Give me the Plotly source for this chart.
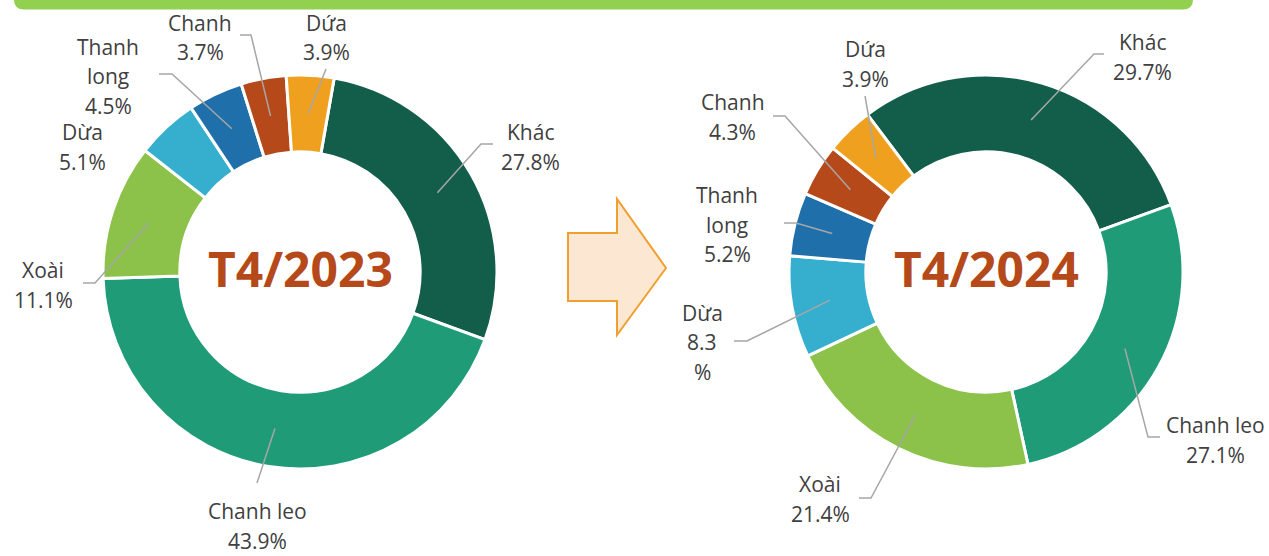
import math
import plotly.graph_objects as go

W, H = 1269, 556

# ---------------- data ----------------
categories = ["Khác", "Chanh leo", "Xoài", "Dừa", "Thanh long", "Chanh", "Dứa"]
share_2023 = [27.8, 43.9, 11.1, 5.1, 4.5, 3.7, 3.9]
share_2024 = [29.7, 27.1, 21.4, 8.3, 5.2, 4.3, 3.9]
period_titles = ["T4/2023", "T4/2024"]

# ---------------- style ----------------
slice_colors = ["#135E4B", "#1F9B78", "#8CC24A", "#36AFCF", "#1F6FAB", "#B5491A", "#F0A01F"]
TEXT_COLOR = "#404040"
LEADER_COLOR = "#A6A6A6"
TITLE_COLOR = "#B5491A"
FONT = "Open Sans"
LABEL_SIZE = 21
LINE_GAP = 29.5
R = 197
HOLE = 0.61

# layout of each donut: centre (px), start angle, label placement (px)
chart_layouts = [
    dict(cx=300, cy=272, rotation=10,
         wrap_name={"Thanh long"}, wrap_value=set(),
         labels={
             "Khác": dict(pos=(530, 147), elbow=(481, 144), end=(493, 144)),
             "Chanh leo": dict(pos=(257, 526), elbow=(257, 483), end=(257, 483)),
             "Xoài": dict(pos=(43, 285), elbow=(95, 283), end=(83, 283)),
             "Dừa": dict(pos=(82, 147), elbow=None, end=None),
             "Thanh long": dict(pos=(108, 76), elbow=(172, 74), end=(159, 74)),
             "Chanh": dict(pos=(200, 37.5), elbow=(251, 35), end=(240, 35)),
             "Dứa": dict(pos=(326, 37.5), elbow=(326, 69), end=(326, 69)),
         }),
    dict(cx=986, cy=272, rotation=-37,
         wrap_name={"Thanh long"}, wrap_value={"Dừa"},
         labels={
             "Khác": dict(pos=(1142, 57), elbow=(1094, 54), end=(1104, 54)),
             "Chanh leo": dict(pos=(1215, 440), elbow=(1148, 437), end=(1160, 437)),
             "Xoài": dict(pos=(820, 499), elbow=(871, 498), end=(859, 498)),
             "Dừa": dict(pos=(702, 342.5), elbow=(747, 341), end=(734, 341)),
             "Thanh long": dict(pos=(727, 225), elbow=(796, 223), end=(784, 223)),
             "Chanh": dict(pos=(733, 117), elbow=(785, 116), end=(773, 116)),
             "Dứa": dict(pos=(865, 64), elbow=(865, 96), end=(865, 96)),
         }),
]


def px(x):
    return x / W


def py(y):
    return 1 - y / H


fig = go.Figure()
annotations = []
shapes = []

for values, title, lay in zip([share_2023, share_2024], period_titles, chart_layouts):
    cx, cy = lay["cx"], lay["cy"]
    fig.add_trace(go.Pie(
        values=values, labels=categories, sort=False, direction="clockwise",
        rotation=lay["rotation"], hole=HOLE, textinfo="none",
        marker=dict(colors=slice_colors, line=dict(color="white", width=3)),
        domain=dict(x=[px(cx - R), px(cx + R)], y=[py(cy + R), py(cy - R)]),
        showlegend=False, hovertemplate="%{label}: %{value}%<extra></extra>",
    ))
    annotations.append(dict(
        x=px(cx), y=py(cy - 4), xref="paper", yref="paper", showarrow=False,
        text=f"<b>{title}</b>", xanchor="center", yanchor="middle",
        font=dict(family=FONT, size=48, color=TITLE_COLOR),
    ))

    total = sum(values)
    angle = lay["rotation"]
    r_mid = (R + R * HOLE) / 2
    for cat, v in zip(categories, values):
        span = 360 * v / total
        mid = math.radians(angle + span / 2)
        angle += span
        spec = lay["labels"][cat]
        # label text
        name_lines = cat.split(" ") if cat in lay["wrap_name"] else [cat]
        vtxt = f"{v:.1f}"
        val_lines = [vtxt, "%"] if cat in lay["wrap_value"] else [vtxt + "%"]
        lines = name_lines + val_lines
        lx, ly = spec["pos"]
        n = len(lines)
        for i, t in enumerate(lines):
            yy = ly + (i - (n - 1) / 2) * LINE_GAP
            annotations.append(dict(
                x=px(lx), y=py(yy), xref="paper", yref="paper", showarrow=False,
                text=t, xanchor="center", yanchor="middle",
                font=dict(family=FONT, size=LABEL_SIZE, color=TEXT_COLOR),
            ))
        # leader line from the middle of the ring at the slice's mid-angle
        if spec["elbow"] is not None:
            sx = cx + r_mid * math.sin(mid)
            sy = cy - r_mid * math.cos(mid)
            ex, ey = spec["elbow"]
            tx, ty = spec["end"]
            path = f"M {px(sx)},{py(sy)} L {px(ex)},{py(ey)} L {px(tx)},{py(ty)}"
            shapes.append(dict(type="path", xref="paper", yref="paper", path=path,
                               line=dict(color=LEADER_COLOR, width=1.5)))

# top green banner (rounded bottom corners)
bx0, bx1, by0, by1, rc = 14, 1193, -12, 9.5, 10
banner = (f"M {px(bx0)},{py(by0)} L {px(bx0)},{py(by1 - rc)} "
          f"Q {px(bx0)},{py(by1)} {px(bx0 + rc)},{py(by1)} "
          f"L {px(bx1 - rc)},{py(by1)} Q {px(bx1)},{py(by1)} {px(bx1)},{py(by1 - rc)} "
          f"L {px(bx1)},{py(by0)} Z")
shapes.append(dict(type="path", xref="paper", yref="paper", path=banner,
                   fillcolor="#92D050", line=dict(width=0), layer="below"))

# block arrow between the donuts
ax0, axh, axt, ay_b0, ay_b1, ay_h0, ay_h1, ay_t = 568, 617, 666, 233, 301, 199, 335, 268
arrow = (f"M {px(ax0)},{py(ay_b0)} L {px(axh)},{py(ay_b0)} L {px(axh)},{py(ay_h0)} "
         f"L {px(axt)},{py(ay_t)} L {px(axh)},{py(ay_h1)} L {px(axh)},{py(ay_b1)} "
         f"L {px(ax0)},{py(ay_b1)} Z")
shapes.append(dict(type="path", xref="paper", yref="paper", path=arrow,
                   fillcolor="#FCE8D2", line=dict(color="#F0A02E", width=2)))

fig.update_layout(
    width=W, height=H, autosize=False,
    margin=dict(l=0, r=0, t=0, b=0),
    paper_bgcolor="white", plot_bgcolor="white",
    annotations=annotations, shapes=shapes,
    font=dict(family=FONT),
)

fig.write_html(
    "out.html",
    config={"displayModeBar": False},
    post_script="document.body.style.margin='0px';document.body.style.overflow='hidden';",
)
